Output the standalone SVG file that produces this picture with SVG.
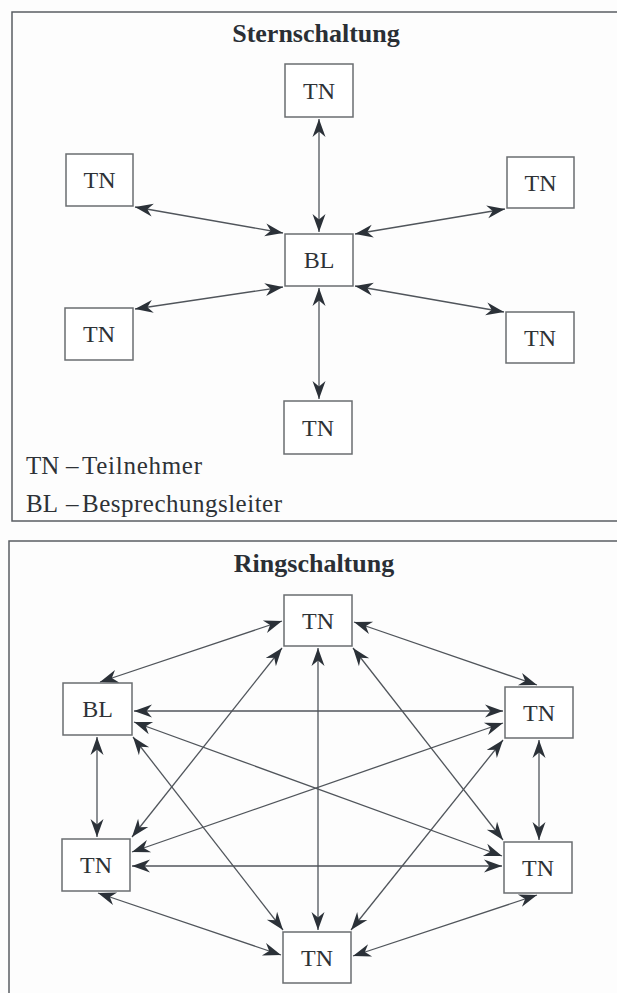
<svg xmlns="http://www.w3.org/2000/svg" width="617" height="993" viewBox="0 0 617 993">
<style>
.frame{fill:none;stroke:#5a5e63;stroke-width:1.5}
.box{fill:#ffffff;stroke:#6a6d70;stroke-width:1.5}
.lbl{font-family:"Liberation Serif","Times New Roman",serif;font-size:24px;fill:#2e3236;text-anchor:middle}
.title{font-family:"Liberation Serif","Times New Roman",serif;font-size:26px;font-weight:bold;fill:#2a2f35;text-anchor:middle}
.leg{font-family:"Liberation Serif","Times New Roman",serif;font-size:25px;fill:#2e3236}
.con line{stroke:#50555b;stroke-width:1.3;marker-start:url(#ah);marker-end:url(#ah)}
</style>
<defs>
<marker id="ah" viewBox="-19 -8 20 16" refX="0" refY="0" markerWidth="20" markerHeight="16" markerUnits="userSpaceOnUse" orient="auto-start-reverse">
<path d="M0,0 L-18,-6.5 L-12.5,0 L-18,6.5 Z" fill="#2b3138"/>
</marker>
</defs>
<rect width="617" height="993" fill="#fdfdfd"/>

<g id="panel-stern">
<path class="frame" d="M617,12 H12 V521 H617"/>
<text class="title" x="316" y="42">Sternschaltung</text>
<text class="leg" x="26" y="474">TN<tspan x="66">–</tspan><tspan x="82" textLength="120" lengthAdjust="spacing">Teilnehmer</tspan></text>
<text class="leg" x="26" y="512">BL<tspan x="66">–</tspan><tspan x="82" textLength="200" lengthAdjust="spacing">Besprechungsleiter</tspan></text>
</g>

<g id="s-tn-top"><rect class="box" x="285" y="64" width="68" height="53"/><text class="lbl" x="319" y="99">TN</text></g>
<g id="s-tn-left"><rect class="box" x="66" y="154" width="67" height="52"/><text class="lbl" x="99.5" y="188">TN</text></g>
<g id="s-tn-right"><rect class="box" x="507" y="157" width="67" height="51"/><text class="lbl" x="540.5" y="191">TN</text></g>
<g id="s-bl"><rect class="box" x="285" y="234" width="68" height="52"/><text class="lbl" x="319" y="268">BL</text></g>
<g id="s-tn-lowleft"><rect class="box" x="65" y="308" width="68" height="52"/><text class="lbl" x="99" y="342">TN</text></g>
<g id="s-tn-lowright"><rect class="box" x="506" y="312" width="68" height="51"/><text class="lbl" x="540" y="346">TN</text></g>
<g id="s-tn-bottom"><rect class="box" x="284" y="401" width="68" height="53"/><text class="lbl" x="318" y="436">TN</text></g>

<g id="s-connectors" class="con">
<line x1="319" y1="119" x2="319" y2="232"/>
<line x1="135" y1="207" x2="283" y2="233"/>
<line x1="505" y1="209" x2="355" y2="234"/>
<line x1="283" y1="287" x2="135" y2="309"/>
<line x1="355" y1="286" x2="504" y2="312"/>
<line x1="319" y1="288" x2="319" y2="399"/>
</g>

<g id="panel-ring">
<path class="frame" d="M617,541 H9 V993"/>
<text class="title" x="314" y="572">Ringschaltung</text>
</g>

<g id="r-tn-top"><rect class="box" x="284" y="595" width="68" height="51"/><text class="lbl" x="318" y="629">TN</text></g>
<g id="r-bl"><rect class="box" x="63" y="683" width="69" height="52"/><text class="lbl" x="97.5" y="717">BL</text></g>
<g id="r-tn-right"><rect class="box" x="505" y="687" width="68" height="51"/><text class="lbl" x="539" y="721">TN</text></g>
<g id="r-tn-lowleft"><rect class="box" x="62" y="839" width="68" height="52"/><text class="lbl" x="96" y="873">TN</text></g>
<g id="r-tn-lowright"><rect class="box" x="504" y="842" width="68" height="51"/><text class="lbl" x="538" y="876">TN</text></g>
<g id="r-tn-bottom"><rect class="box" x="283" y="932" width="68" height="51"/><text class="lbl" x="317" y="966">TN</text></g>

<g id="r-connectors" class="con">
<line x1="282" y1="621" x2="100" y2="682"/>
<line x1="354" y1="622" x2="537" y2="685"/>
<line x1="282" y1="648" x2="132" y2="837"/>
<line x1="318" y1="648" x2="318" y2="930"/>
<line x1="353" y1="648" x2="503" y2="840"/>
<line x1="134" y1="711" x2="503" y2="711"/>
<line x1="134" y1="722" x2="502" y2="856"/>
<line x1="133" y1="737" x2="283" y2="930"/>
<line x1="97" y1="737" x2="97" y2="837"/>
<line x1="503" y1="723" x2="132" y2="852"/>
<line x1="503" y1="740" x2="351" y2="930"/>
<line x1="539" y1="740" x2="539" y2="840"/>
<line x1="132" y1="866" x2="502" y2="866"/>
<line x1="98" y1="893" x2="281" y2="955"/>
<line x1="537" y1="895" x2="353" y2="956"/>
</g>
</svg>
